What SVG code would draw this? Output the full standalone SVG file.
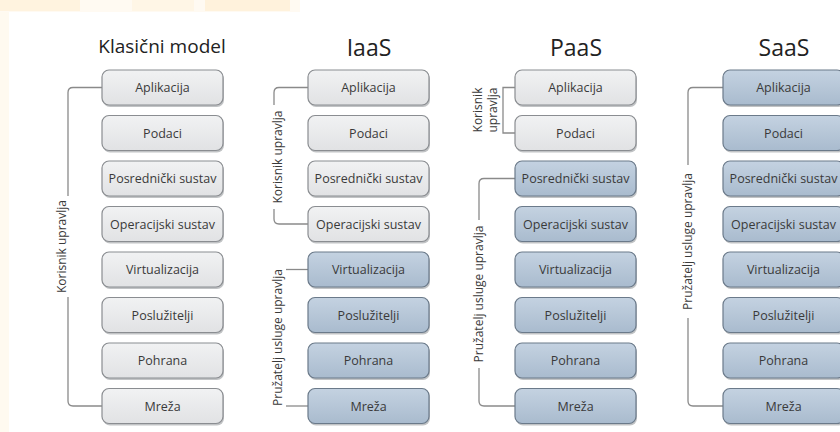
<svg xmlns="http://www.w3.org/2000/svg" width="840" height="432" viewBox="0 0 840 432">
<defs>
<linearGradient id="gGray" x1="0" y1="0" x2="0" y2="1"><stop offset="0" stop-color="#f1f2f3"/><stop offset="1" stop-color="#e1e2e4"/></linearGradient>
<linearGradient id="gBlue" x1="0" y1="0" x2="0" y2="1"><stop offset="0" stop-color="#c4d2e1"/><stop offset="1" stop-color="#a9bbce"/></linearGradient>
<style>
.t{font-family:"Open Sans","Noto Sans",sans-serif;fill:#222}
.bt{font-family:"Open Sans","Noto Sans",sans-serif;font-size:12.5px;fill:#3a3a3a;text-anchor:middle}
.lt{font-family:"Open Sans","Noto Sans",sans-serif;font-size:12px;fill:#3a3a3a;text-anchor:middle}
.sh{fill:#8e9296;opacity:.55}
.g{fill:url(#gGray);stroke:#8a8d91;stroke-width:1.2}
.b{fill:url(#gBlue);stroke:#6b7a8a;stroke-width:1.2}
.c{fill:none;stroke:#8a8a8a;stroke-width:1.3}
</style>
</defs>
<rect width="840" height="432" fill="#ffffff"/>
<rect x="0" y="0" width="9" height="432" fill="#fffaf0"/>
<rect x="0" y="0" width="300" height="12" fill="#fffaf2"/>
<rect x="0" y="0" width="80" height="11" fill="#fff3df"/>
<rect x="132" y="0" width="62" height="11" fill="#fff6e6"/>
<rect x="205" y="0" width="85" height="11" fill="#fff2dc"/>

<g id="titles">
<text class="t" x="162" y="53" font-size="19" text-anchor="middle">Klasični model</text>
<text class="t" x="369" y="56" font-size="23" text-anchor="middle">IaaS</text>
<text class="t" x="576" y="56" font-size="23" text-anchor="middle">PaaS</text>
<text class="t" x="784" y="56" font-size="23" text-anchor="middle">SaaS</text>
</g>

<g id="connectors">
<path class="c" d="M102,87.5 H73 Q68,87.5 68,92.5 V196"/>
<path class="c" d="M68,297 V401 Q68,406 73,406 H102"/>
<path class="c" d="M308,87.5 H279 Q274,87.5 274,92.5 V105"/>
<path class="c" d="M274,209 V219 Q274,224 279,224 H308"/>
<path class="c" d="M286,269.5 H308"/>
<path class="c" d="M286,406 H308"/>
<path class="c" d="M515,87.5 H503 V133 H515"/>
<path class="c" d="M515,178.5 H484 Q479,178.5 479,183.5 V220"/>
<path class="c" d="M479,368 V401 Q479,406 484,406 H515"/>
<path class="c" d="M723,87.5 H693 Q688,87.5 688,92.5 V165"/>
<path class="c" d="M688,318 V401 Q688,406 693,406 H723"/>
<text class="lt" transform="translate(66,246.5) rotate(-90)">Korisnik upravlja</text>
<text class="lt" transform="translate(282,157) rotate(-90)">Korisnik upravlja</text>
<text class="lt" transform="translate(282,337.5) rotate(-90)">Pružatelj usluge upravlja</text>
<text class="lt" transform="translate(482,110) rotate(-90)">Korisnik</text>
<text class="lt" transform="translate(497,110) rotate(-90)">upravlja</text>
<text class="lt" transform="translate(483,294) rotate(-90)">Pružatelj usluge upravlja</text>
<text class="lt" transform="translate(692,241.5) rotate(-90)">Pružatelj usluge upravlja</text>
</g>

<g id="k-aplikacija"><rect class="sh" x="103" y="72" width="121" height="35" rx="7"/><rect class="g" x="102" y="70" width="121" height="35" rx="7"/><text class="bt" x="162.5" y="92">Aplikacija</text></g>
<g id="k-podaci"><rect class="sh" x="103" y="117.5" width="121" height="35" rx="7"/><rect class="g" x="102" y="115.5" width="121" height="35" rx="7"/><text class="bt" x="162.5" y="137.5">Podaci</text></g>
<g id="k-posrednicki"><rect class="sh" x="103" y="163" width="121" height="35" rx="7"/><rect class="g" x="102" y="161" width="121" height="35" rx="7"/><text class="bt" x="162.5" y="183">Posrednički sustav</text></g>
<g id="k-operacijski"><rect class="sh" x="103" y="208.5" width="121" height="35" rx="7"/><rect class="g" x="102" y="206.5" width="121" height="35" rx="7"/><text class="bt" x="162.5" y="228.5">Operacijski sustav</text></g>
<g id="k-virtualizacija"><rect class="sh" x="103" y="254" width="121" height="35" rx="7"/><rect class="g" x="102" y="252" width="121" height="35" rx="7"/><text class="bt" x="162.5" y="274">Virtualizacija</text></g>
<g id="k-posluzitelji"><rect class="sh" x="103" y="299.5" width="121" height="35" rx="7"/><rect class="g" x="102" y="297.5" width="121" height="35" rx="7"/><text class="bt" x="162.5" y="319.5">Poslužitelji</text></g>
<g id="k-pohrana"><rect class="sh" x="103" y="345" width="121" height="35" rx="7"/><rect class="g" x="102" y="343" width="121" height="35" rx="7"/><text class="bt" x="162.5" y="365">Pohrana</text></g>
<g id="k-mreza"><rect class="sh" x="103" y="390.5" width="121" height="35" rx="7"/><rect class="g" x="102" y="388.5" width="121" height="35" rx="7"/><text class="bt" x="162.5" y="410.5">Mreža</text></g>

<g id="i-aplikacija"><rect class="sh" x="309" y="72" width="121" height="35" rx="7"/><rect class="g" x="308" y="70" width="121" height="35" rx="7"/><text class="bt" x="368.5" y="92">Aplikacija</text></g>
<g id="i-podaci"><rect class="sh" x="309" y="117.5" width="121" height="35" rx="7"/><rect class="g" x="308" y="115.5" width="121" height="35" rx="7"/><text class="bt" x="368.5" y="137.5">Podaci</text></g>
<g id="i-posrednicki"><rect class="sh" x="309" y="163" width="121" height="35" rx="7"/><rect class="g" x="308" y="161" width="121" height="35" rx="7"/><text class="bt" x="368.5" y="183">Posrednički sustav</text></g>
<g id="i-operacijski"><rect class="sh" x="309" y="208.5" width="121" height="35" rx="7"/><rect class="g" x="308" y="206.5" width="121" height="35" rx="7"/><text class="bt" x="368.5" y="228.5">Operacijski sustav</text></g>
<g id="i-virtualizacija"><rect class="sh" x="309" y="254" width="121" height="35" rx="7"/><rect class="b" x="308" y="252" width="121" height="35" rx="7"/><text class="bt" x="368.5" y="274">Virtualizacija</text></g>
<g id="i-posluzitelji"><rect class="sh" x="309" y="299.5" width="121" height="35" rx="7"/><rect class="b" x="308" y="297.5" width="121" height="35" rx="7"/><text class="bt" x="368.5" y="319.5">Poslužitelji</text></g>
<g id="i-pohrana"><rect class="sh" x="309" y="345" width="121" height="35" rx="7"/><rect class="b" x="308" y="343" width="121" height="35" rx="7"/><text class="bt" x="368.5" y="365">Pohrana</text></g>
<g id="i-mreza"><rect class="sh" x="309" y="390.5" width="121" height="35" rx="7"/><rect class="b" x="308" y="388.5" width="121" height="35" rx="7"/><text class="bt" x="368.5" y="410.5">Mreža</text></g>

<g id="p-aplikacija"><rect class="sh" x="516" y="72" width="121" height="35" rx="7"/><rect class="g" x="515" y="70" width="121" height="35" rx="7"/><text class="bt" x="575.5" y="92">Aplikacija</text></g>
<g id="p-podaci"><rect class="sh" x="516" y="117.5" width="121" height="35" rx="7"/><rect class="g" x="515" y="115.5" width="121" height="35" rx="7"/><text class="bt" x="575.5" y="137.5">Podaci</text></g>
<g id="p-posrednicki"><rect class="sh" x="516" y="163" width="121" height="35" rx="7"/><rect class="b" x="515" y="161" width="121" height="35" rx="7"/><text class="bt" x="575.5" y="183">Posrednički sustav</text></g>
<g id="p-operacijski"><rect class="sh" x="516" y="208.5" width="121" height="35" rx="7"/><rect class="b" x="515" y="206.5" width="121" height="35" rx="7"/><text class="bt" x="575.5" y="228.5">Operacijski sustav</text></g>
<g id="p-virtualizacija"><rect class="sh" x="516" y="254" width="121" height="35" rx="7"/><rect class="b" x="515" y="252" width="121" height="35" rx="7"/><text class="bt" x="575.5" y="274">Virtualizacija</text></g>
<g id="p-posluzitelji"><rect class="sh" x="516" y="299.5" width="121" height="35" rx="7"/><rect class="b" x="515" y="297.5" width="121" height="35" rx="7"/><text class="bt" x="575.5" y="319.5">Poslužitelji</text></g>
<g id="p-pohrana"><rect class="sh" x="516" y="345" width="121" height="35" rx="7"/><rect class="b" x="515" y="343" width="121" height="35" rx="7"/><text class="bt" x="575.5" y="365">Pohrana</text></g>
<g id="p-mreza"><rect class="sh" x="516" y="390.5" width="121" height="35" rx="7"/><rect class="b" x="515" y="388.5" width="121" height="35" rx="7"/><text class="bt" x="575.5" y="410.5">Mreža</text></g>

<g id="s-aplikacija"><rect class="sh" x="724" y="72" width="121" height="35" rx="7"/><rect class="b" x="723" y="70" width="121" height="35" rx="7"/><text class="bt" x="783.5" y="92">Aplikacija</text></g>
<g id="s-podaci"><rect class="sh" x="724" y="117.5" width="121" height="35" rx="7"/><rect class="b" x="723" y="115.5" width="121" height="35" rx="7"/><text class="bt" x="783.5" y="137.5">Podaci</text></g>
<g id="s-posrednicki"><rect class="sh" x="724" y="163" width="121" height="35" rx="7"/><rect class="b" x="723" y="161" width="121" height="35" rx="7"/><text class="bt" x="783.5" y="183">Posrednički sustav</text></g>
<g id="s-operacijski"><rect class="sh" x="724" y="208.5" width="121" height="35" rx="7"/><rect class="b" x="723" y="206.5" width="121" height="35" rx="7"/><text class="bt" x="783.5" y="228.5">Operacijski sustav</text></g>
<g id="s-virtualizacija"><rect class="sh" x="724" y="254" width="121" height="35" rx="7"/><rect class="b" x="723" y="252" width="121" height="35" rx="7"/><text class="bt" x="783.5" y="274">Virtualizacija</text></g>
<g id="s-posluzitelji"><rect class="sh" x="724" y="299.5" width="121" height="35" rx="7"/><rect class="b" x="723" y="297.5" width="121" height="35" rx="7"/><text class="bt" x="783.5" y="319.5">Poslužitelji</text></g>
<g id="s-pohrana"><rect class="sh" x="724" y="345" width="121" height="35" rx="7"/><rect class="b" x="723" y="343" width="121" height="35" rx="7"/><text class="bt" x="783.5" y="365">Pohrana</text></g>
<g id="s-mreza"><rect class="sh" x="724" y="390.5" width="121" height="35" rx="7"/><rect class="b" x="723" y="388.5" width="121" height="35" rx="7"/><text class="bt" x="783.5" y="410.5">Mreža</text></g>
</svg>
